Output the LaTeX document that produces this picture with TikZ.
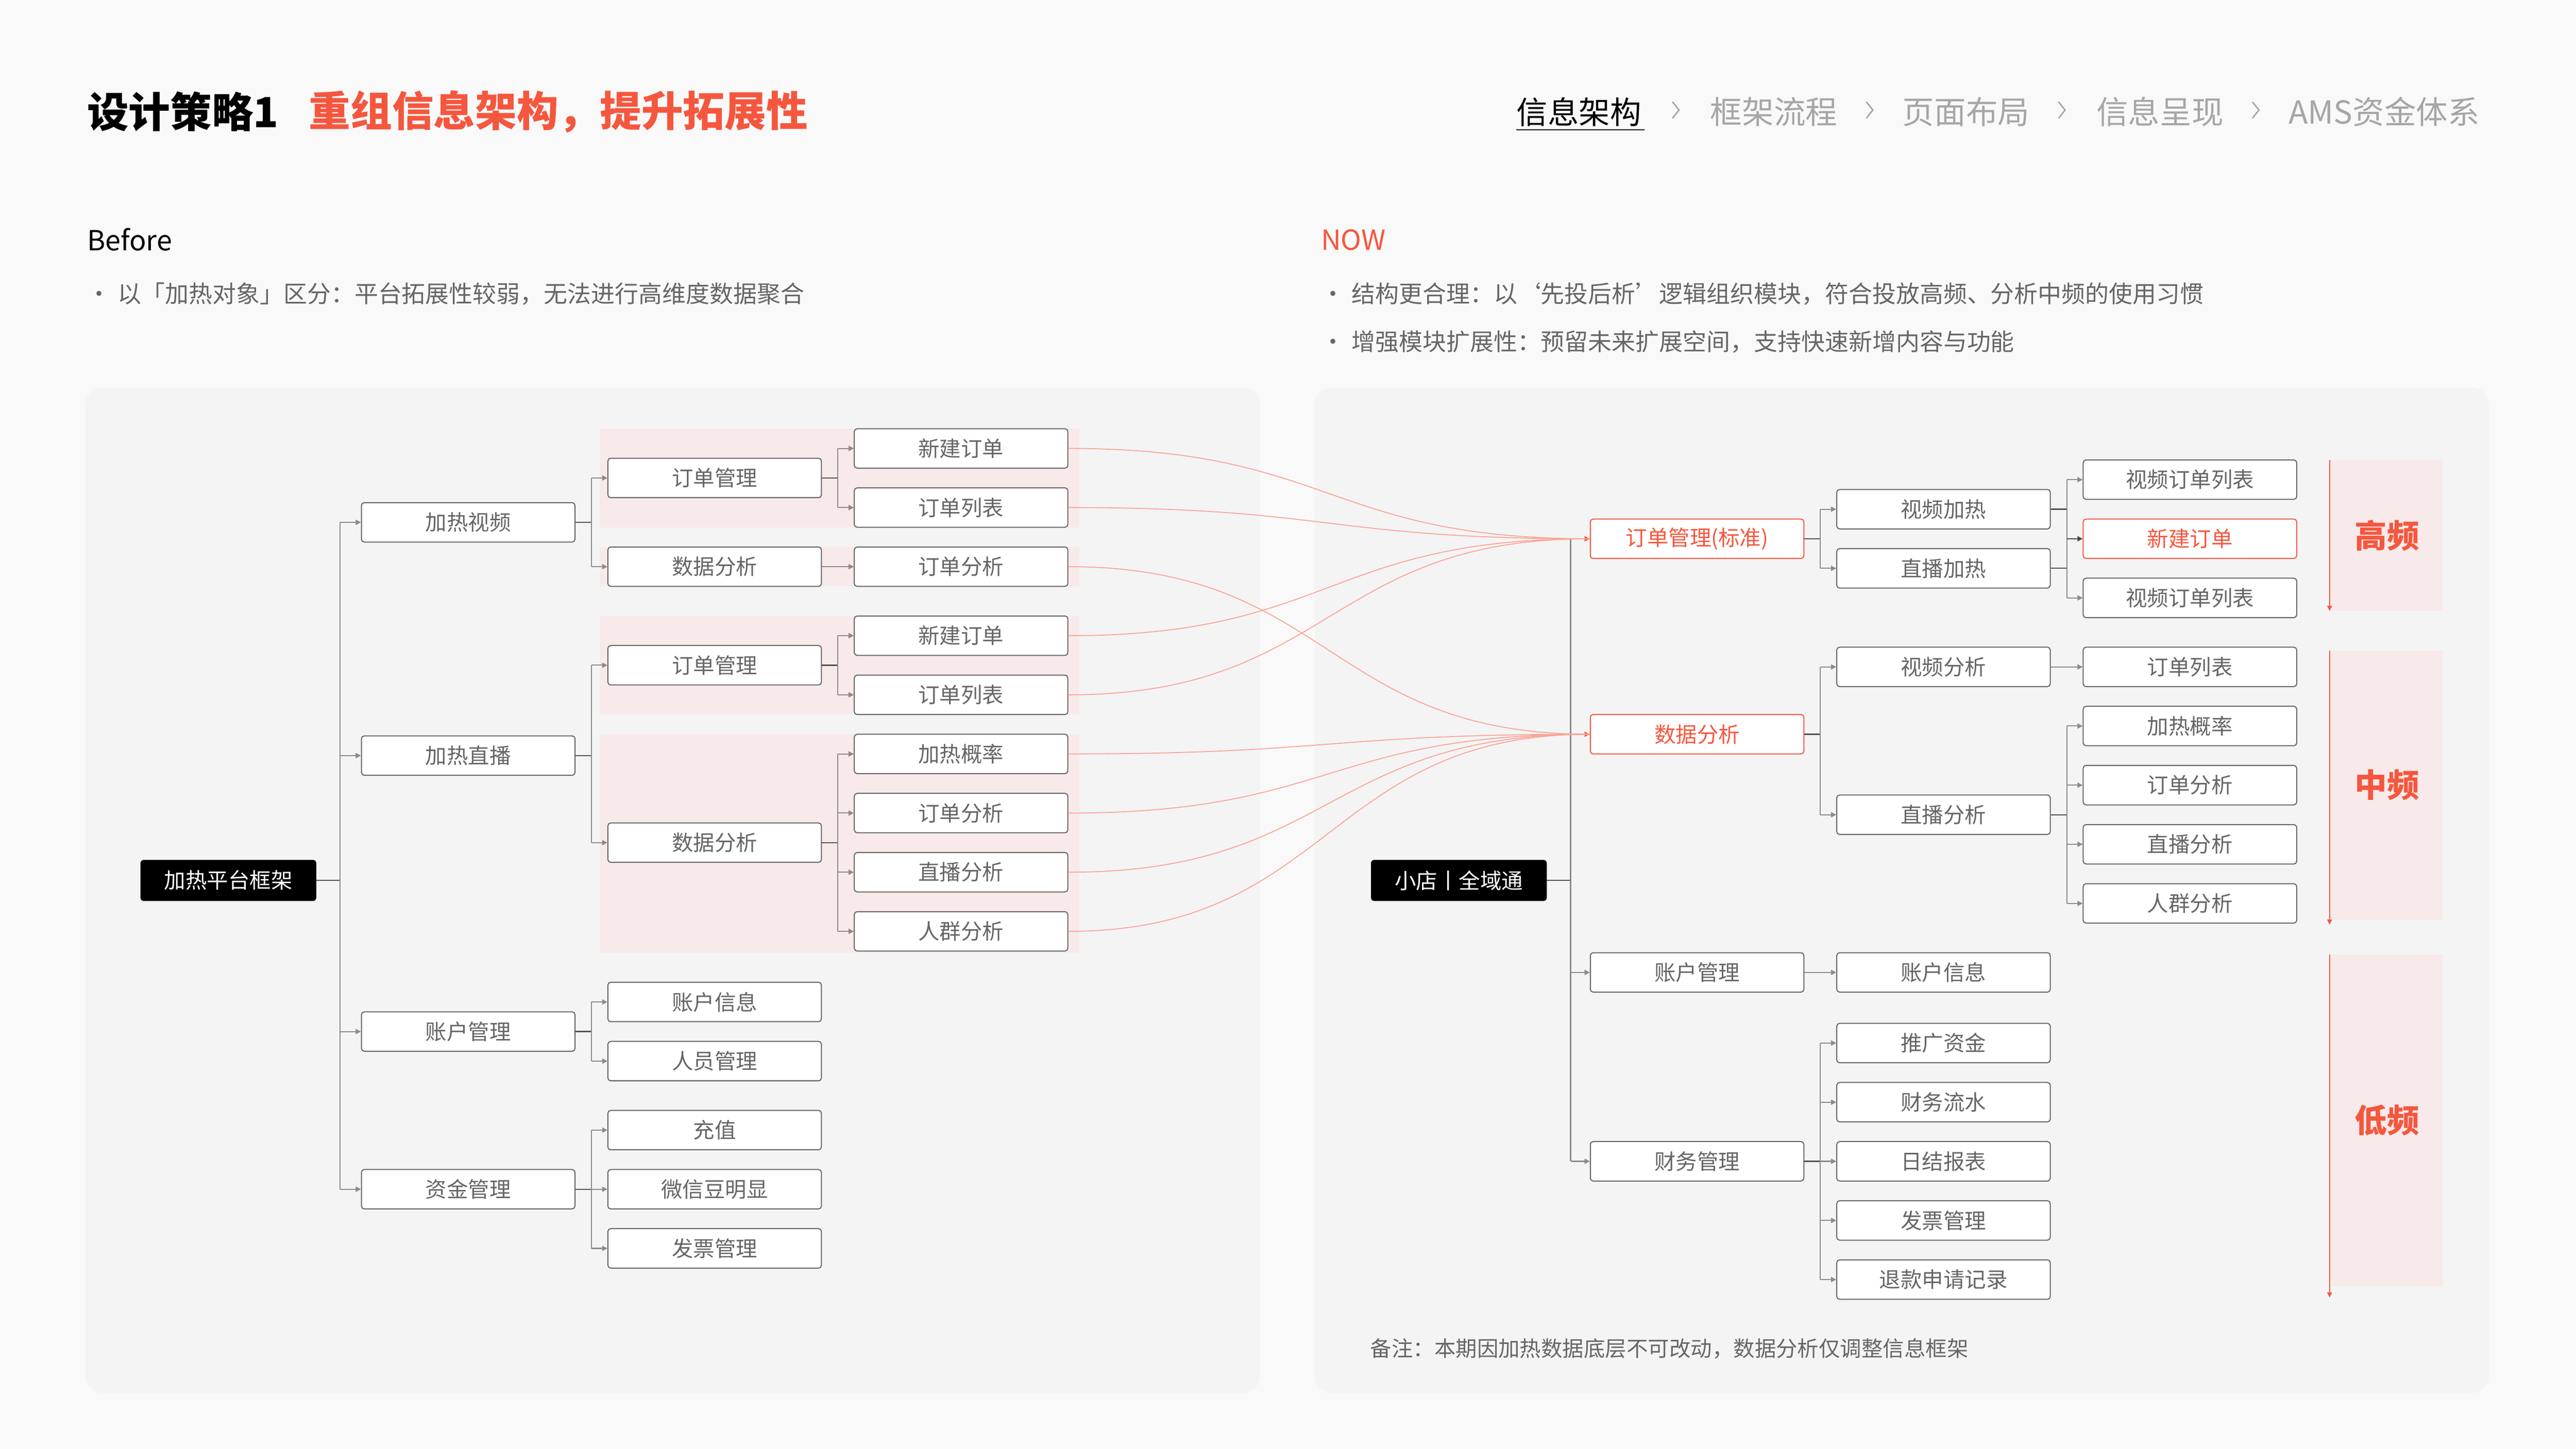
\documentclass[tikz,border=0pt]{standalone}
\usepackage{fontspec}
\setmainfont{Noto Sans CJK SC}
\usetikzlibrary{arrows.meta,calc}
\definecolor{rd}{HTML}{F5573E}
\definecolor{pk}{HTML}{F8EAEA}
\definecolor{ln}{HTML}{8A8A8A}
\definecolor{tx}{HTML}{666666}
\begin{document}
\begin{tikzpicture}[x=0.1cm,y=-0.1cm,
 box/.style={draw=tx,line width=1.8pt,rounded corners=5pt,fill=white,minimum width=13cm,minimum height=2.4cm,inner sep=0pt,text=tx,font=\fontsize{37}{40}\selectfont},
 rbox/.style={box,draw=rd,text=rd},
 root/.style={fill=black,rounded corners=5pt,minimum width=10.7cm,minimum height=2.5cm,text=white,font=\fontsize{37}{40}\selectfont},
 con/.style={draw=ln,line width=1.8pt,-{Triangle[length=9pt,width=9pt]}},
 stub/.style={draw=tx!80!black,line width=2pt},
 cur/.style={draw=rd!55,line width=1.6pt},
 txt/.style={anchor=west,inner sep=0pt}]
\fill[gray!5] (0,0) rectangle (1568,882);
\useasboundingbox (0,0) rectangle (1568,882);
% panels
\fill[gray!9,rounded corners=30pt] (52,236) rectangle (767,848);
\fill[gray!9,rounded corners=30pt] (800,236) rectangle (1515,848);
% header
\node[txt,font=\fontsize{72}{76}\selectfont\bfseries] at (53,68) {设计策略1};
\node[txt,text=rd,font=\fontsize{72}{76}\selectfont\bfseries] at (188,68) {重组信息架构，提升拓展性};
\node[txt,font=\fontsize{54}{60}\selectfont] (b1) at (923,68) {信息架构};
\draw[line width=2.5pt] (923,79) -- (1001,79);
\foreach \x/\t in {1041/框架流程,1158/页面布局,1276/信息呈现,1393/AMS资金体系}{
 \node[txt,text=gray!70,font=\fontsize{55}{60}\selectfont] at (\x,68) {\t};}
\foreach \x in {1020,1138,1255,1373}{\draw[gray!70,line width=2.5pt] (\x-2,62) -- (\x+2,67) -- (\x-2,72);}
\node[txt,font=\fontsize{48}{52}\selectfont] at (53,146) {Before};
\node[txt,text=tx,font=\fontsize{41}{45}\selectfont] at (53,179) {•\hspace{12pt}以「加热对象」区分：平台拓展性较弱，无法进行高维度数据聚合};
\node[txt,text=rd,font=\fontsize{48}{52}\selectfont] at (804,146) {NOW};
\node[txt,text=tx,font=\fontsize{41}{45}\selectfont] at (804,179) {•\hspace{12pt}结构更合理：以‘先投后析’逻辑组织模块，符合投放高频、分析中频的使用习惯};
\node[txt,text=tx,font=\fontsize{41}{45}\selectfont] at (804,208) {•\hspace{12pt}增强模块扩展性：预留未来扩展空间，支持快速新增内容与功能};
\node[txt,text=tx,font=\fontsize{37}{40}\selectfont] at (834,821) {备注：本期因加热数据底层不可改动，数据分析仅调整信息框架};
% pink bands
\fill[pk] (365,261) rectangle (657,321);
\fill[pk] (365,333) rectangle (657,357);
\fill[pk] (365,375) rectangle (657,435);
\fill[pk] (365,447) rectangle (657,580);
% left tree
\node[root] (L) at (139,536) {加热平台框架};
\foreach \n/\y/\t in {a/318/加热视频,b/460/加热直播,c/628/账户管理,d/724/资金管理}{\node[box] (L\n) at (285,\y) {\t};}
\foreach \n/\y/\t in {a1/291/订单管理,a2/345/数据分析,b1/405/订单管理,b2/513/数据分析,c1/610/账户信息,c2/646/人员管理,d1/688/充值,d2/724/微信豆明显,d3/760/发票管理}{\node[box] (L\n) at (435,\y) {\t};}
\foreach \n/\y/\t in {1/273/新建订单,2/309/订单列表,3/345/订单分析,4/387/新建订单,5/423/订单列表,6/459/加热概率,7/495/订单分析,8/531/直播分析,9/567/人群分析}{\node[box] (M\n) at (585,\y) {\t};}
\draw[stub] (L.east) -- (207,536);
\draw[ln,line width=1.8pt] (207,318) -- (207,724);
\foreach \n in {a,b,c,d}{\draw[con] (207,0 |- L\n.west) -- (L\n.west);}
\foreach \p/\ch/\top/\bot in {a/{a1,a2}/291/345,b/{b1,b2}/405/513,c/{c1,c2}/610/646,d/{d1,d2,d3}/688/760}{
 \draw[stub] (L\p.east) -- (360,0 |- L\p.east);
 \draw[ln,line width=1.8pt] (360,\top) -- (360,\bot);
 \foreach \c in \ch {\draw[con] (360,0 |- L\c.west) -- (L\c.west);}}
\draw[con] (La2.east) -- (M3.west);
\draw[stub] (La1.east) -- (510,291); \draw[ln,line width=1.8pt] (510,273) -- (510,309);
\draw[con] (510,273) -- (M1.west); \draw[con] (510,309) -- (M2.west);
\draw[stub] (Lb1.east) -- (510,405); \draw[ln,line width=1.8pt] (510,387) -- (510,423);
\draw[con] (510,387) -- (M4.west); \draw[con] (510,423) -- (M5.west);
\draw[stub] (Lb2.east) -- (510,513); \draw[ln,line width=1.8pt] (510,459) -- (510,567);
\foreach \i in {6,7,8,9}{\draw[con] (510,0 |- M\i.west) -- (M\i.west);}
% right tree
\node[root] (R) at (888,536) {小店丨全域通};
\node[rbox] (Ra) at (1033,328) {订单管理(标准)};
\node[rbox] (Rb) at (1033,447) {数据分析};
\node[box] (Rc) at (1033,592) {账户管理};
\node[box] (Rd) at (1033,707) {财务管理};
\foreach \n/\y/\t in {a1/310/视频加热,a2/346/直播加热,b1/406/视频分析,b2/496/直播分析,c1/592/账户信息,d1/635/推广资金,d2/671/财务流水,d3/707/日结报表,d4/743/发票管理,d5/779/退款申请记录}{\node[box] (R\n) at (1183,\y) {\t};}
\foreach \n/\y/\t in {1/292/视频订单列表,3/364/视频订单列表,4/406/订单列表,5/442/加热概率,6/478/订单分析,7/514/直播分析,8/550/人群分析}{\node[box] (N\n) at (1333,\y) {\t};}
\node[rbox] (N2) at (1333,328) {新建订单};
\draw[stub] (R.east) -- (956,536);
\draw[ln,line width=1.8pt] (956,328) -- (956,707);
\draw[con,draw=rd] (956,328) -- (Ra.west);
\draw[con,draw=rd] (956,447) -- (Rb.west);
\draw[con] (956,592) -- (Rc.west);
\draw[con] (956,707) -- (Rd.west);
\foreach \p/\ch/\top/\bot in {a/{a1,a2}/310/346,b/{b1,b2}/406/496,d/{d1,d2,d3,d4,d5}/635/779}{
 \draw[stub] (R\p.east) -- (1108,0 |- R\p.east);
 \draw[ln,line width=1.8pt] (1108,\top) -- (1108,\bot);
 \foreach \c in \ch {\draw[con] (1108,0 |- R\c.west) -- (R\c.west);}}
\draw[con] (Rc.east) -- (Rc1.west);
\draw[con] (Rb1.east) -- (N4.west);
\draw[stub] (Ra1.east) -- (1258,310); \draw[stub] (Ra2.east) -- (1258,346);
\draw[ln,line width=1.8pt] (1258,292) -- (1258,364);
\draw[con] (1258,292) -- (N1.west); \draw[con,draw=tx!70!black] (1258,328) -- (N2.west); \draw[con] (1258,364) -- (N3.west);
\draw[stub] (Rb2.east) -- (1258,496); \draw[ln,line width=1.8pt] (1258,442) -- (1258,550);
\foreach \i in {5,6,7,8}{\draw[con] (1258,0 |- N\i.west) -- (N\i.west);}
% curves
\foreach \m/\t in {1/Ra,2/Ra,4/Ra,5/Ra,3/Rb,6/Rb,7/Rb,8/Rb,9/Rb}{
 \draw[cur] (M\m.east) .. controls ($(M\m.east)+(160,0)$) and ($(\t.west)+(-160,0)$) .. (\t.west);}
% frequency
\foreach \a/\b/\e/\t in {280/372/372/高频,396/560/563/中频,581/783/790/低频}{
 \fill[pk] (1418,\a) rectangle (1487,\b);
 \draw[rd,line width=2pt,-{Triangle[length=9pt,width=8pt]}] (1418,\a) -- (1418,\e);
 \node[text=rd,font=\fontsize{56}{60}\selectfont\bfseries] at (1453,{(\a+\b)/2}) {\t};}
\end{tikzpicture}
\end{document}
